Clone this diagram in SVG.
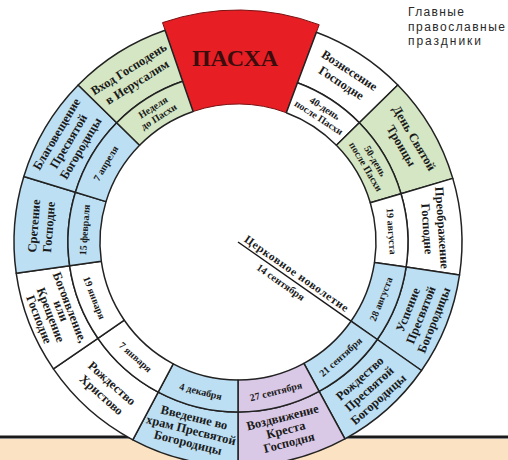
<svg xmlns="http://www.w3.org/2000/svg" width="508" height="460" viewBox="0 0 508 460">
<style>
.cell{stroke:#222;stroke-width:1.5;stroke-linejoin:round}
.w{fill:#ffffff}.g{fill:#d4e6c3}.b{fill:#bcdff3}.p{fill:#d9c8e6}
.n{font-family:"Liberation Serif","Times New Roman",serif;font-weight:bold;font-size:12.5px;fill:#1a1a1a;text-anchor:middle;dominant-baseline:central}
.d{font-family:"Liberation Serif","Times New Roman",serif;font-weight:bold;font-size:10px;fill:#1a1a1a;text-anchor:middle;dominant-baseline:central}
.t{font-family:"Liberation Sans",Arial,sans-serif;font-size:12px;fill:#2a2a2a}
</style>
<rect width="508" height="460" fill="#ffffff"/>
<g id="band">
<rect x="0" y="439" width="508" height="21" fill="#fbe2c2"/>
<line x1="0" y1="437" x2="508" y2="437" stroke="#1a1a1a" stroke-width="3"/>
</g>
<g id="title">
<text class="t" x="408" y="16" textLength="56" lengthAdjust="spacing">Главные</text>
<text class="t" x="408" y="31" textLength="97" lengthAdjust="spacing">православные</text>
<text class="t" x="408" y="45" textLength="73" lengthAdjust="spacing">праздники</text>
</g>
<g id="pascha">
<path d="M162.5,22.6 A232,232 0 0 1 319.2,24.7 L286.3,112.7 A138,138 0 0 0 193.1,111.5 Z" fill="#e81e25" stroke="#7a1414" stroke-width="1"/>
<text x="235" y="58" font-family="Liberation Serif,serif" font-weight="bold" font-size="24" fill="#3b0d0d" text-anchor="middle" dominant-baseline="central">ПАСХА</text>
</g>
<g id="voznesenie">
<path class="cell w" d="M316.4,32.2 A224,224 0 0 1 397.8,85 L359.3,122.8 A170,170 0 0 0 297.5,82.8 Z"/>
<path class="cell w" d="M297.5,82.8 A170,170 0 0 1 359.3,122.8 L336.4,145.3 A138,138 0 0 0 286.3,112.7 Z"/>
<g transform="translate(345.3,76.8) rotate(33)"><text class="n" y="-7.5">Вознесение</text><text class="n" y="7.5">Господне</text></g>
<g transform="translate(321.9,112.8) rotate(33)"><text class="d" y="-5.5">40-день</text><text class="d" y="5.5">после Пасхи</text></g>
</g>
<g id="troica">
<path class="cell g" d="M397.8,85 A224,224 0 0 1 452.8,178.4 L401,193.7 A170,170 0 0 0 359.3,122.8 Z"/>
<path class="cell g" d="M359.3,122.8 A170,170 0 0 1 401,193.7 L370.3,202.8 A138,138 0 0 0 336.4,145.3 Z"/>
<g transform="translate(407.7,142) rotate(59.5)"><text class="n" y="-7.5">День Святой</text><text class="n" y="7.5">Троицы</text></g>
<g transform="translate(370.7,163.8) rotate(59.5)"><text class="d" y="-5.5">50-день</text><text class="d" y="5.5">после Пасхи</text></g>
</g>
<g id="preobrazhenie">
<path class="cell w" d="M452.8,178.4 A224,224 0 0 1 459.5,275.1 L406.1,267.1 A170,170 0 0 0 401,193.7 Z"/>
<path class="cell w" d="M401,193.7 A170,170 0 0 1 406.1,267.1 L374.5,262.4 A138,138 0 0 0 370.3,202.8 Z"/>
<g transform="translate(434.5,228.3) rotate(86)"><text class="n" y="-7.5">Преображение</text><text class="n" y="7.5">Господне</text></g>
<g transform="translate(391.6,231.3) rotate(86)"><text class="d">19 августа</text></g>
</g>
<g id="uspenie">
<path class="cell b" d="M459.5,275.1 A224,224 0 0 1 421.5,370.5 L377.3,339.5 A170,170 0 0 0 406.1,267.1 Z"/>
<path class="cell b" d="M406.1,267.1 A170,170 0 0 1 377.3,339.5 L351,321.2 A138,138 0 0 0 374.5,262.4 Z"/>
<g transform="translate(421,315) rotate(-68.25)"><text class="n" y="-14">Успение</text><text class="n" y="0">Пресвятой</text><text class="n" y="14">Богородицы</text></g>
<g transform="translate(381,299) rotate(-68.25)"><text class="d">28 августа</text></g>
</g>
<g id="rozhdestvo-bogorodicy">
<path class="cell b" d="M421.5,370.5 A224,224 0 0 1 344.9,438.9 L319.1,391.4 A170,170 0 0 0 377.3,339.5 Z"/>
<path class="cell b" d="M377.3,339.5 A170,170 0 0 1 319.1,391.4 L303.9,363.3 A138,138 0 0 0 351,321.2 Z"/>
<g transform="translate(369.2,389) rotate(-41.75)"><text class="n" y="-14">Рождество</text><text class="n" y="0">Пресвятой</text><text class="n" y="14">Богородицы</text></g>
<g transform="translate(340.5,356.9) rotate(-41.75)"><text class="d">21 сентября</text></g>
</g>
<g id="vozdvizhenie">
<path class="cell p" d="M344.9,438.9 A224,224 0 0 1 238,466 L238,412 A170,170 0 0 0 319.1,391.4 Z"/>
<path class="cell p" d="M319.1,391.4 A170,170 0 0 1 238,412 L238,380 A138,138 0 0 0 303.9,363.3 Z"/>
<g transform="translate(285.8,430) rotate(-14.25)"><text class="n" y="-13" font-size="11.5">Воздвижение</text><text class="n" y="0">Креста</text><text class="n" y="13">Господня</text></g>
<g transform="translate(275.9,391.3) rotate(-14.25)"><text class="d">27 сентября</text></g>
</g>
<g id="vvedenie">
<path class="cell b" d="M238,466 A224,224 0 0 1 132.8,439.8 L158.2,392.1 A170,170 0 0 0 238,412 Z"/>
<path class="cell b" d="M238,412 A170,170 0 0 1 158.2,392.1 L173.2,363.8 A138,138 0 0 0 238,380 Z"/>
<g transform="translate(191.1,430.2) rotate(14)"><text class="n" y="-13">Введение во</text><text class="n" y="0" font-size="11.5">храм Пресвятой</text><text class="n" y="13">Богородицы</text></g>
<g transform="translate(200.7,391.4) rotate(14)"><text class="d">4 декабря</text></g>
</g>
<g id="rozhdestvo-hristovo">
<path class="cell w" d="M132.8,439.8 A224,224 0 0 1 53.4,368.9 L97.9,338.3 A170,170 0 0 0 158.2,392.1 Z"/>
<path class="cell w" d="M158.2,392.1 A170,170 0 0 1 97.9,338.3 L124.3,320.2 A138,138 0 0 0 173.2,363.8 Z"/>
<g transform="translate(106.8,389) rotate(41.75)"><text class="n" y="-7.5">Рождество</text><text class="n" y="8" font-size="13.5">Христово</text></g>
<g transform="translate(135.5,356.9) rotate(41.75)"><text class="d">7 января</text></g>
</g>
<g id="bogoyavlenie">
<path class="cell w" d="M53.4,368.9 A224,224 0 0 1 16.2,273.2 L69.6,265.7 A170,170 0 0 0 97.9,338.3 Z"/>
<path class="cell w" d="M97.9,338.3 A170,170 0 0 1 69.6,265.7 L101.3,261.2 A138,138 0 0 0 124.3,320.2 Z"/>
<g transform="translate(54.4,313.4) rotate(68.75)"><text class="n" y="-16.5" font-size="11">Богоявление,</text><text class="n" y="-7" font-size="6.5">или</text><text class="n" y="4" font-size="12.5">Крещение</text><text class="n" y="16.5" font-size="11">Господне</text></g>
<g transform="translate(94.5,297.8) rotate(68.75)"><text class="d">19 января</text></g>
</g>
<g id="sretenie">
<path class="cell b" d="M16.2,273.2 A224,224 0 0 1 23.8,176.5 L75.4,192.3 A170,170 0 0 0 69.6,265.7 Z"/>
<path class="cell b" d="M69.6,265.7 A170,170 0 0 1 75.4,192.3 L106,201.6 A138,138 0 0 0 101.3,261.2 Z"/>
<g transform="translate(41.6,226.5) rotate(-85.5)"><text class="n" y="-7.5">Сретение</text><text class="n" y="7.5">Господне</text></g>
<g transform="translate(84.5,229.9) rotate(-85.5)"><text class="d">15 февраля</text></g>
</g>
<g id="blagoveshchenie">
<path class="cell b" d="M23.8,176.5 A224,224 0 0 1 78.2,85 L116.7,122.8 A170,170 0 0 0 75.4,192.3 Z"/>
<path class="cell b" d="M75.4,192.3 A170,170 0 0 1 116.7,122.8 L139.6,145.3 A138,138 0 0 0 106,201.6 Z"/>
<g transform="translate(68.7,141.3) rotate(-59.25)"><text class="n" y="-14">Благовещение</text><text class="n" y="0">Пресвятой</text><text class="n" y="14">Богородицы</text></g>
<g transform="translate(105.7,163.3) rotate(-59.25)"><text class="d">7 апреля</text></g>
</g>
<g id="vhod">
<path class="cell g" d="M78.2,85 A224,224 0 0 1 165.1,30.2 L182.6,81.3 A170,170 0 0 0 116.7,122.8 Z"/>
<path class="cell g" d="M116.7,122.8 A170,170 0 0 1 182.6,81.3 L193.1,111.5 A138,138 0 0 0 139.6,145.3 Z"/>
<g transform="translate(132.9,75.4) rotate(-32.25)"><text class="n" y="-7.5" font-size="11">Вход Господень</text><text class="n" y="8" font-size="13.5">в Иерусалим</text></g>
<g transform="translate(155.8,111.8) rotate(-32.25)"><text class="d" y="-5.5">Неделя</text><text class="d" y="5.5">до Пасхи</text></g>
</g>
<g id="connectors">
<line x1="238" y1="242" x2="351" y2="321.2" stroke="#1a1a1a" stroke-width="1.5"/>
</g>
<g id="novoletie" transform="translate(238,242) rotate(35)">
<text x="4" y="-4" font-family="Liberation Serif,serif" font-weight="bold" font-size="11.5" fill="#1a1a1a" textLength="124" lengthAdjust="spacing">Церковное новолетие</text>
<text x="30" y="12" font-family="Liberation Serif,serif" font-weight="bold" font-size="10.5" fill="#1a1a1a">14 сентября</text>
</g>
</svg>
